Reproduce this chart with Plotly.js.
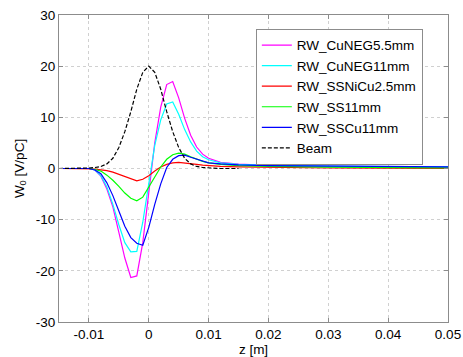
<!DOCTYPE html>
<html>
<head>
<meta charset="utf-8">
<script src="https://cdn.plot.ly/plotly-3.0.1.min.js"></script>
<style>html,body{margin:0;padding:0;background:#fff;}#chart{width:463px;height:357px;}</style>
</head>
<body>
<div id="chart"></div>
<script>
// z positions [m] for the wake curves
var zWake = [-0.015, -0.01, -0.009, -0.008, -0.007, -0.006, -0.005, -0.004, -0.003, -0.002, -0.001, 0, 0.001, 0.002, 0.003, 0.004, 0.005, 0.006, 0.007, 0.008, 0.009, 0.01, 0.012, 0.015, 0.02, 0.03, 0.04, 0.05];
var cuNEG55 = [0, 0, -0.3, -1.5, -4, -7.5, -12.5, -17.5, -21.3, -21.0, -14.5, -4.5, 5, 12, 16.4, 17.0, 13.8, 9.8, 6.5, 4.2, 2.8, 2.0, 1.2, 0.85, 0.6, 0.4, 0.3, 0.25];
var cuNEG11 = [0, 0, -0.3, -1.4, -3.6, -7, -11, -14.5, -16.3, -16.2, -10.5, -2.5, 4.5, 9.5, 12.6, 13.0, 10.6, 7.6, 5.2, 3.4, 2.3, 1.7, 1.1, 0.8, 0.6, 0.45, 0.35, 0.3];
var ssNiCu25 = [0, 0, -0.1, -0.25, -0.4, -0.7, -1.1, -1.6, -2.0, -2.4, -2.1, -1.4, -0.5, 0.3, 0.8, 1.1, 1.2, 1.1, 0.95, 0.8, 0.65, 0.55, 0.4, 0.3, 0.2, 0.1, 0.05, 0.03];
var ss11 = [0, 0, -0.2, -0.5, -1.3, -2.3, -3.5, -4.8, -5.8, -6.3, -5.6, -3.6, -1.5, 0.3, 1.8, 2.7, 3.0, 2.8, 2.3, 1.8, 1.4, 1.1, 0.8, 0.55, 0.4, 0.25, 0.18, 0.12];
var ssCu11 = [0, 0, -0.3, -1.0, -2.8, -5.3, -8.3, -11.3, -13.5, -14.6, -15.0, -11.5, -7, -3, 0.2, 1.8, 2.5, 2.6, 2.2, 1.8, 1.4, 1.1, 0.9, 0.7, 0.55, 0.45, 0.35, 0.3];

// beam profile
var zBeam = [-0.015, -0.012, -0.01, -0.009, -0.008, -0.007, -0.006, -0.005, -0.004, -0.003, -0.002, -0.001, 0, 0.001, 0.002, 0.003, 0.004, 0.005, 0.006, 0.007, 0.008, 0.009, 0.01, 0.012, 0.015];
var beam = [0, 0, 0.1, 0.2, 0.4, 0.9, 2.0, 4.1, 7.2, 11.1, 15.5, 18.8, 20, 18.8, 15.5, 11.1, 7.2, 4.1, 2.0, 0.9, 0.4, 0.2, 0.1, 0, 0];

var seriesNames = ['RW_CuNEG5.5mm', 'RW_CuNEG11mm', 'RW_SSNiCu2.5mm', 'RW_SS11mm', 'RW_SSCu11mm', 'Beam'];
var seriesColors = ['#ff00ff', '#00ffff', '#ff0000', '#00ff00', '#0000ff', '#000000'];

var xTickVals = [-0.01, 0, 0.01, 0.02, 0.03, 0.04, 0.05];
var xTickText = ['-0.01', '0', '0.01', '0.02', '0.03', '0.04', '0.05'];
var yTickVals = [-30, -20, -10, 0, 10, 20, 30];
var yTickText = ['-30', '-20', '-10', '0', '10', '20', '30'];

var wakeData = [cuNEG55, cuNEG11, ssNiCu25, ss11, ssCu11];
var traces = wakeData.map(function (ys, i) {
  return {x: zWake, y: ys, type: 'scatter', mode: 'lines', name: seriesNames[i],
          line: {color: seriesColors[i], width: 1.2}};
});
traces.push({x: zBeam, y: beam, type: 'scatter', mode: 'lines', name: seriesNames[5],
             line: {color: seriesColors[5], width: 1.2, dash: '4px,2px'}});

var font = {family: 'Liberation Sans, Arial, Helvetica, sans-serif', size: 13.5, color: '#000'};
var axisCommon = {
  showline: true, linecolor: '#8c8c8c', linewidth: 1, mirror: 'ticks',
  ticks: 'inside', ticklen: 4, tickcolor: '#8c8c8c',
  showgrid: true, gridcolor: '#d0d0d0', griddash: 'dot', gridwidth: 1,
  zeroline: false, tickfont: font
};

var layout = {
  width: 463, height: 357,
  margin: {l: 59, r: 15, t: 15, b: 35},
  paper_bgcolor: '#fff', plot_bgcolor: '#fff',
  font: font,
  showlegend: true,
  xaxis: Object.assign({}, axisCommon, {
    range: [-0.015, 0.05], tickmode: 'array', tickvals: xTickVals, ticktext: xTickText,
    title: {text: 'z [m]', font: font, standoff: 3}
  }),
  yaxis: Object.assign({}, axisCommon, {
    range: [-30, 30], tickmode: 'array', tickvals: yTickVals, ticktext: yTickText,
    title: {text: 'W<sub>0</sub> [V/pC]', font: font, standoff: 8}
  }),
  legend: {
    x: 0.506, y: 0.955, xanchor: 'left', yanchor: 'top',
    bgcolor: '#fff', bordercolor: '#8c8c8c', borderwidth: 1,
    font: font, tracegroupgap: 0
  }
};

Plotly.newPlot('chart', traces, layout, {displayModeBar: false, staticPlot: true});
</script>
</body>
</html>
